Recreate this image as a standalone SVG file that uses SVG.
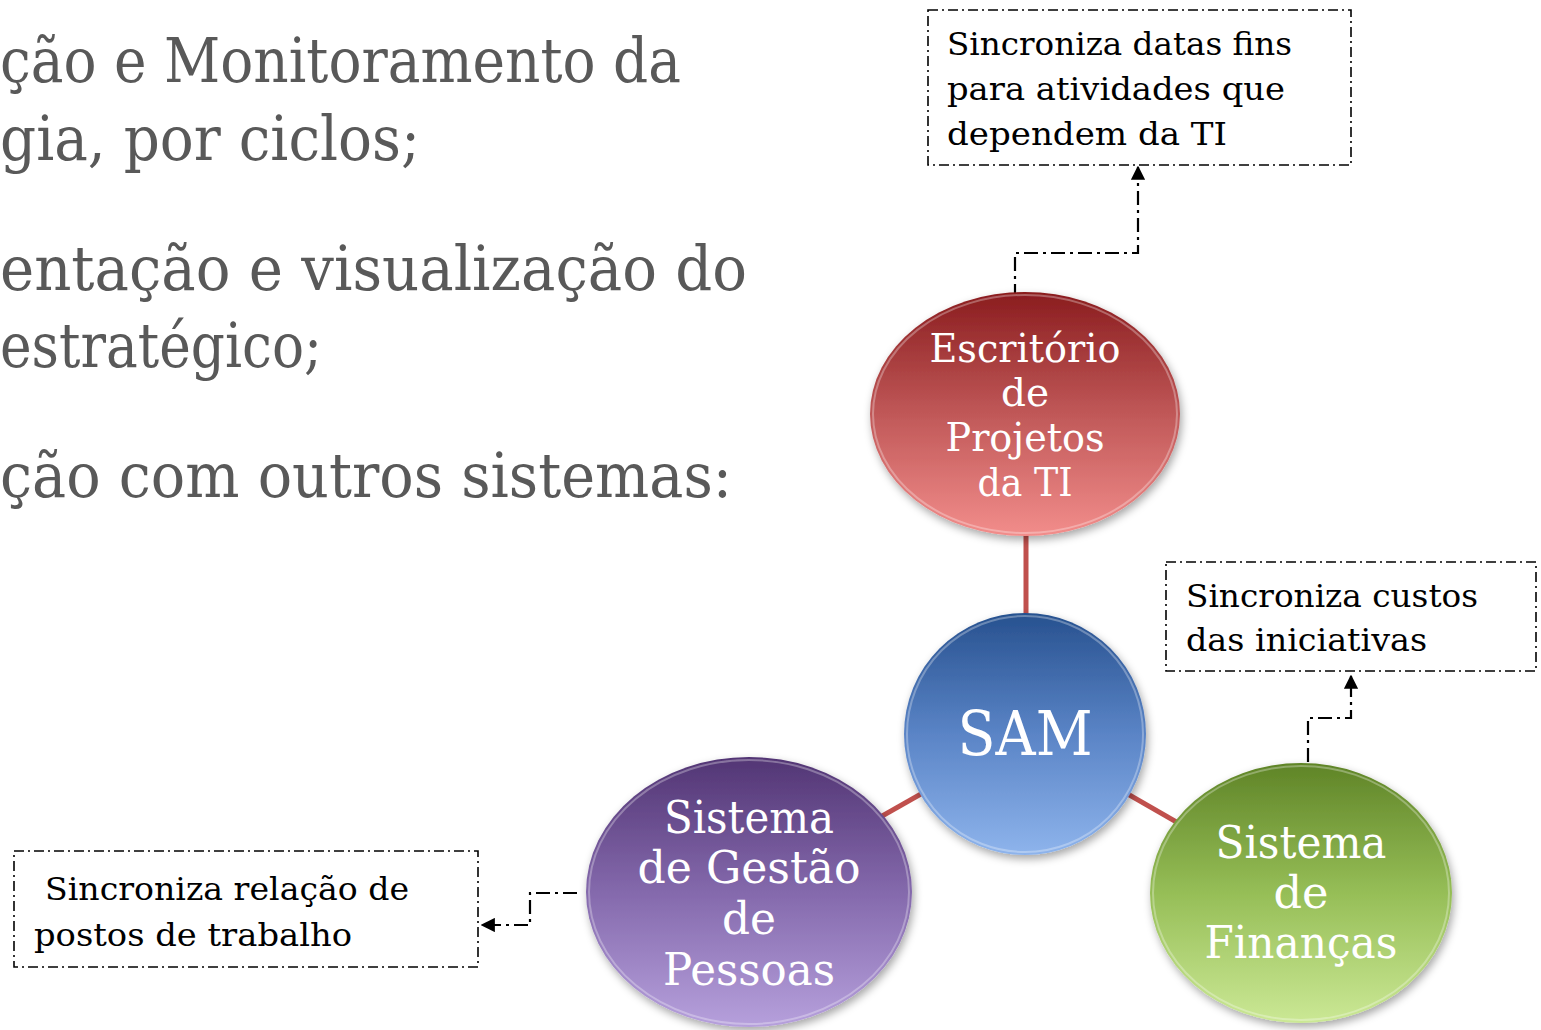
<svg xmlns="http://www.w3.org/2000/svg" width="1541" height="1030" viewBox="0 0 1541 1030">
<defs>
<style>
.body{font-family:"DejaVu Serif","Liberation Serif",serif;fill:#595959;font-size:62px}
.lbl{font-family:"DejaVu Serif","Liberation Serif",serif;fill:#000;font-size:32px}
.nt{font-family:"DejaVu Serif","Liberation Serif",serif;fill:#fff;text-anchor:middle}
.box{fill:#fff;stroke:#000;stroke-width:1.6;stroke-dasharray:10 4 2 4}
.link{stroke:#C0504D;stroke-width:5;fill:none}
.arr{stroke:#000;stroke-width:2.2;fill:none;stroke-dasharray:14 5 3 5}
.rim{fill:none;stroke:#fff;stroke-opacity:0.3;stroke-width:2}
</style>
<linearGradient id="gRed" x1="0" y1="0" x2="0" y2="1"><stop offset="0" stop-color="#8A1C1E"/><stop offset="0.5" stop-color="#C05858"/><stop offset="1" stop-color="#F28D8B"/></linearGradient>
<linearGradient id="gBlue" x1="0" y1="0" x2="0" y2="1"><stop offset="0" stop-color="#27518F"/><stop offset="0.5" stop-color="#5A84C6"/><stop offset="1" stop-color="#8EB4EC"/></linearGradient>
<linearGradient id="gPur" x1="0" y1="0" x2="0" y2="1"><stop offset="0" stop-color="#523574"/><stop offset="0.5" stop-color="#8469AC"/><stop offset="1" stop-color="#B6A0DC"/></linearGradient>
<linearGradient id="gGrn" x1="0" y1="0" x2="0" y2="1"><stop offset="0" stop-color="#5F8427"/><stop offset="0.5" stop-color="#96BE57"/><stop offset="1" stop-color="#CBE895"/></linearGradient>
<filter id="sh" x="-20%" y="-20%" width="140%" height="140%"><feDropShadow dx="2" dy="4" stdDeviation="4" flood-color="#000" flood-opacity="0.35"/></filter>
<marker id="ah" viewBox="0 0 10 10" refX="9" refY="5" markerWidth="6.5" markerHeight="6.5" orient="auto-start-reverse"><path d="M0,0 L10,5 L0,10 z" fill="#000"/></marker>
</defs>
<rect width="1541" height="1030" fill="#fff"/>
<g id="bodytext">
<text class="body" x="0" y="82" textLength="681" lengthAdjust="spacingAndGlyphs">ção e Monitoramento da</text>
<text class="body" x="0" y="160" textLength="420" lengthAdjust="spacingAndGlyphs">gia, por ciclos;</text>
<text class="body" x="0" y="290" textLength="747" lengthAdjust="spacingAndGlyphs">entação e visualização do</text>
<text class="body" x="0" y="367" textLength="322" lengthAdjust="spacingAndGlyphs">estratégico;</text>
<text class="body" x="0" y="497" textLength="732" lengthAdjust="spacingAndGlyphs">ção com outros sistemas:</text>
</g>
<g id="connectors">
<line class="link" x1="1026" y1="413" x2="1026" y2="735"/>
<line class="link" x1="1025" y1="735" x2="748" y2="892"/>
<line class="link" x1="1025" y1="735" x2="1300" y2="893"/>
<path class="arr" d="M1015,298 L1015,253 L1138,253 L1138,167" marker-end="url(#ah)"/>
<path class="arr" d="M1308,762 L1308,718 L1351,718 L1351,676" marker-end="url(#ah)"/>
<path class="arr" d="M577,893 L530,893 L530,925 L482,925" marker-end="url(#ah)"/>
</g>
<g id="box-ti">
<rect class="box" x="928" y="10" width="423" height="155"/>
<text class="lbl" x="947" y="55" textLength="345" lengthAdjust="spacingAndGlyphs">Sincroniza datas fins</text>
<text class="lbl" x="947" y="100" textLength="338" lengthAdjust="spacingAndGlyphs">para atividades que</text>
<text class="lbl" x="947" y="145" textLength="280" lengthAdjust="spacingAndGlyphs">dependem da TI</text>
</g>
<g id="box-fin">
<rect class="box" x="1166" y="562" width="370" height="109"/>
<text class="lbl" x="1186" y="607" textLength="292" lengthAdjust="spacingAndGlyphs">Sincroniza custos</text>
<text class="lbl" x="1186" y="651" textLength="241" lengthAdjust="spacingAndGlyphs">das iniciativas</text>
</g>
<g id="box-pes">
<rect class="box" x="14" y="851" width="464" height="116"/>
<text class="lbl" x="45" y="900" textLength="364" lengthAdjust="spacingAndGlyphs">Sincroniza relação de</text>
<text class="lbl" x="34" y="946" textLength="318" lengthAdjust="spacingAndGlyphs">postos de trabalho</text>
</g>
<g id="node-ti">
<ellipse cx="1025" cy="414" rx="155" ry="122" fill="url(#gRed)" filter="url(#sh)"/>
<ellipse class="rim" cx="1025" cy="414" rx="152" ry="119"/>
<text class="nt" x="1025" y="362" font-size="39" textLength="191" lengthAdjust="spacingAndGlyphs">Escritório</text>
<text class="nt" x="1025" y="406" font-size="39">de</text>
<text class="nt" x="1025" y="451" font-size="39" textLength="159" lengthAdjust="spacingAndGlyphs">Projetos</text>
<text class="nt" x="1025" y="496" font-size="39" textLength="95" lengthAdjust="spacingAndGlyphs">da TI</text>
</g>
<g id="node-sam">
<circle cx="1025" cy="734" r="121" fill="url(#gBlue)" filter="url(#sh)"/>
<circle class="rim" cx="1025" cy="734" r="118"/>
<text class="nt" x="1025" y="755" font-size="62" textLength="135" lengthAdjust="spacingAndGlyphs">SAM</text>
</g>
<g id="node-pes">
<ellipse cx="749" cy="892" rx="163" ry="135" fill="url(#gPur)" filter="url(#sh)"/>
<ellipse class="rim" cx="749" cy="892" rx="160" ry="132"/>
<text class="nt" x="749" y="833" font-size="45" textLength="170" lengthAdjust="spacingAndGlyphs">Sistema</text>
<text class="nt" x="749" y="883" font-size="45" textLength="223" lengthAdjust="spacingAndGlyphs">de Gestão</text>
<text class="nt" x="749" y="934" font-size="45" textLength="54" lengthAdjust="spacingAndGlyphs">de</text>
<text class="nt" x="749" y="985" font-size="45" textLength="172" lengthAdjust="spacingAndGlyphs">Pessoas</text>
</g>
<g id="node-fin">
<ellipse cx="1301" cy="893" rx="151" ry="130" fill="url(#gGrn)" filter="url(#sh)"/>
<ellipse class="rim" cx="1301" cy="893" rx="148" ry="127"/>
<text class="nt" x="1301" y="858" font-size="45" textLength="171" lengthAdjust="spacingAndGlyphs">Sistema</text>
<text class="nt" x="1301" y="908" font-size="45" textLength="55" lengthAdjust="spacingAndGlyphs">de</text>
<text class="nt" x="1301" y="958" font-size="45" textLength="193" lengthAdjust="spacingAndGlyphs">Finanças</text>
</g>
</svg>
